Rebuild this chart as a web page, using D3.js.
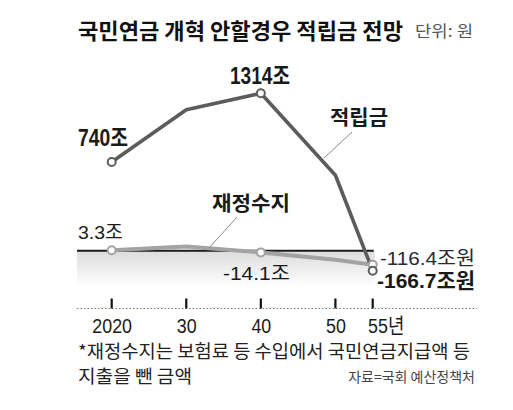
<!DOCTYPE html>
<html><head><meta charset="utf-8">
<script src="https://cdn.jsdelivr.net/npm/d3@7"></script>
<style>body{margin:0;background:#fff}svg{display:block}</style>
</head><body>
<script>
const years = [2020, 2030, 2040, 2050, 2055];
const tickLabels = ["2020", "30", "40", "50", "55년"];
const reserve = [740, 1176, 1314, 630, -166.7];      // 적립금 (조원)
const balance = [3.3, 35, -14.1, -75, -116.4];        // 재정수지 (조원)
const reserveMarked = [2020, 2040, 2055];
const balanceMarked = [2020, 2040, 2055];

const W = 513, H = 410;
const svg = d3.select("body").append("svg").attr("width", W).attr("height", H);
const NUM = "'Liberation Sans','Noto Sans CJK KR',sans-serif";
const KR = "'Noto Sans CJK KR',sans-serif";

const x = d3.scaleLinear().domain([2020, 2055]).range([111.7, 372.7]);
const y = d3.scaleLinear().domain([0, 1314]).range([250.7, 93.3]);

// gradient below zero
const defs = svg.append("defs");
const g = defs.append("linearGradient").attr("id", "shade").attr("x1", 0).attr("y1", 0).attr("x2", 0).attr("y2", 1);
g.append("stop").attr("offset", 0).attr("stop-color", "#dcdcdc");
g.append("stop").attr("offset", 1).attr("stop-color", "#ffffff");
svg.append("rect").attr("x", 77).attr("y", y(0)).attr("width", x(2055) - 77 + 2).attr("height", 36).attr("fill", "url(#shade)");

// zero line
svg.append("line").attr("x1", 77).attr("x2", x(2055) + 1).attr("y1", y(0)).attr("y2", y(0))
  .attr("stroke", "#1a1a1a").attr("stroke-width", 2);

// x axis (dotted baseline + ticks)
const axisY = 308.5;
svg.append("line").attr("x1", 77).attr("x2", 477).attr("y1", axisY).attr("y2", axisY)
  .attr("stroke", "#777").attr("stroke-width", 1).attr("stroke-dasharray", "1.5,2");
const xAxis = d3.axisBottom(x).tickValues(years).tickFormat((d, i) => tickLabels[i]).tickSize(0).tickPadding(0);
const ax = svg.append("g").attr("transform", `translate(0,${axisY})`).call(xAxis);
ax.select(".domain").remove();
ax.selectAll(".tick text").attr("font-family", NUM).attr("font-size", 21).attr("fill", "#1a1a1a")
  .attr("dy", "0").attr("y", 25)
  .attr("transform", "scale(0.85,1)")
  .attr("x", 0);
ax.selectAll(".tick").filter(d => d === 2055).select("text").attr("text-anchor", "start").attr("x", -6);
svg.selectAll("line.tk").data(years).join("line").attr("class", "tk")
  .attr("x1", d => x(d)).attr("x2", d => x(d)).attr("y1", axisY - 10).attr("y2", axisY)
  .attr("stroke", "#111").attr("stroke-width", 2.2);

// lines
const line = d3.line().x(d => x(d[0])).y(d => y(d[1]));
svg.append("path").datum(years.map((yr, i) => [yr, balance[i]])).attr("d", line)
  .attr("fill", "none").attr("stroke", "#a3a3a3").attr("stroke-width", 4).attr("stroke-linejoin", "round");
svg.append("path").datum(years.map((yr, i) => [yr, reserve[i]])).attr("d", line)
  .attr("fill", "none").attr("stroke", "#5c5c5c").attr("stroke-width", 3.6).attr("stroke-linejoin", "round");

// markers
svg.selectAll("circle.b").data(years.map((yr, i) => [yr, balance[i]]).filter(d => balanceMarked.includes(d[0])))
  .join("circle").attr("class", "b").attr("cx", d => x(d[0])).attr("cy", d => y(d[1])).attr("r", 4)
  .attr("fill", "#fff").attr("stroke", "#a3a3a3").attr("stroke-width", 2);
svg.selectAll("circle.r").data(years.map((yr, i) => [yr, reserve[i]]).filter(d => reserveMarked.includes(d[0])))
  .join("circle").attr("class", "r").attr("cx", d => x(d[0])).attr("cy", d => y(d[1])).attr("r", 4)
  .attr("fill", "#fff").attr("stroke", "#5c5c5c").attr("stroke-width", 2);

// leader lines
svg.append("line").attr("x1", 352).attr("y1", 132).attr("x2", 324).attr("y2", 158).attr("stroke", "#888").attr("stroke-width", 1);
svg.append("line").attr("x1", 237).attr("y1", 217).attr("x2", 209).attr("y2", 248).attr("stroke", "#888").attr("stroke-width", 1);

function txt(s, px, py, o = {}) {
  const t = svg.append("text").attr("x", px).attr("y", py)
    .attr("font-family", o.ff || NUM).attr("font-size", o.fs || 19)
    .attr("font-weight", o.fw || "normal").attr("fill", o.fill || "#1a1a1a")
    .attr("text-anchor", o.anchor || "start").text(s);
  if (o.len) t.attr("textLength", o.len).attr("lengthAdjust", "spacingAndGlyphs");
  return t;
}

// title
txt("국민연금 개혁 안할경우 적립금 전망", 78, 39, {ff: KR, fs: 22, fw: "bold", fill: "#111", len: 325});
txt("단위: 원", 415, 37, {ff: KR, fs: 16, fill: "#555", len: 58});

// value labels
txt(reserve[0] + "조", 78, 146, {fs: 23, fw: "bold", len: 50});
txt(reserve[2] + "조", 230, 84, {fs: 23, fw: "bold", len: 60});
txt("적립금", 330, 125, {ff: KR, fs: 20, fw: "bold", len: 58});
txt("재정수지", 212, 211, {ff: KR, fs: 20, fw: "bold", len: 78});
txt(balance[0] + "조", 78, 239, {fs: 19, len: 45});
txt(balance[2] + "조", 223, 280, {fs: 19, len: 67});
txt(balance[4] + "조원", 380, 265, {fs: 19, fill: "#2a2a33", len: 95});
txt(reserve[4] + "조원", 377, 288, {fs: 21, fw: "bold", len: 98});

// footnotes
txt("*재정수지는 보험료 등 수입에서 국민연금지급액 등", 78, 358, {ff: KR, fs: 18, fill: "#222", len: 392});
txt("지출을 뺀 금액", 78, 383, {ff: KR, fs: 18, fill: "#222", len: 114});
txt("자료=국회 예산정책처", 475, 382, {ff: KR, fs: 14, fill: "#444", anchor: "end"});
</script>
</body></html>
